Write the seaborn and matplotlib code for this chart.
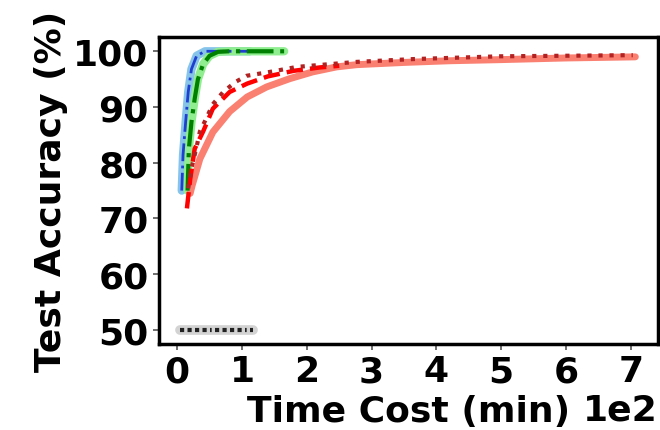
import matplotlib
matplotlib.use("Agg")
import matplotlib.pyplot as plt
import seaborn as sns

# ---- data (time in minutes, accuracy in %) ----
blue_time = [7, 9, 13, 17, 22, 30, 43, 60, 80, 100, 112]
blue_acc = [75.0, 81.4, 87.3, 92.7, 96.8, 99.2, 100.0, 100.0, 100.0, 100.0, 100.0]

green_time = [16, 18, 22, 27, 32, 40, 50, 63, 80, 100, 120, 140, 165]
green_acc = [75.0, 82.5, 87.3, 91.5, 95.0, 97.7, 99.2, 99.9, 100.0, 100.0, 100.0, 100.0, 100.0]

salmon_time = [20, 23, 35, 55, 81, 108, 138, 174, 209, 246, 277, 350, 420, 498, 600, 707]
salmon_acc = [74.5, 75.9, 80.7, 85.5, 89.2, 91.8, 93.6, 95.1, 96.3, 97.2, 97.6, 98.0, 98.3, 98.5, 98.8, 99.0]

red_time = [15, 20, 27, 40, 55, 81, 108, 140, 180, 220, 250]
red_acc = [71.8, 77.0, 82.5, 85.6, 89.7, 92.7, 94.2, 95.5, 96.5, 97.1, 97.4]

dotted_time = [17, 22, 30, 35, 43, 55, 71, 90, 107, 143, 185, 236, 277, 364, 498, 600, 703]
dotted_acc = [75.4, 79.0, 82.9, 85.6, 87.5, 90.5, 92.7, 94.5, 95.6, 96.3, 97.2, 97.7, 98.1, 98.6, 99.1, 99.2, 99.3]

gray_time = [4, 30, 60, 90, 117]
gray_acc = [50.0, 50.0, 50.0, 50.0, 50.0]

x_ticks = [0, 100, 200, 300, 400, 500, 600, 700]
y_ticks = [50, 60, 70, 80, 90, 100]

sns.set_style("ticks")
plt.rcParams["font.family"] = ["DejaVu Sans"]
plt.rcParams["font.weight"] = "bold"
plt.rcParams["text.color"] = "black"
plt.rcParams["axes.labelcolor"] = "black"
plt.rcParams["xtick.color"] = "black"
plt.rcParams["ytick.color"] = "black"

fig = plt.figure(figsize=(6.6, 4.31), dpi=100)
ax = fig.add_axes([0.241, 0.200, 0.756, 0.711])

# light bands
sns.lineplot(x=gray_time, y=gray_acc, ax=ax, color="lightgray", linewidth=7)
sns.lineplot(x=gray_time, y=gray_acc, ax=ax, color="#222222", linewidth=3,
             dashes=(1, 0.8, 1, 0.8, 1, 0.8, 1, 0.8, 0.4, 0.8))
sns.lineplot(x=blue_time, y=blue_acc, ax=ax, color="#87c4ea", linewidth=6)
sns.lineplot(x=green_time, y=green_acc, ax=ax, color="#90ee90", linewidth=6)
sns.lineplot(x=salmon_time, y=salmon_acc, ax=ax, color="#fa8072", linewidth=5)

# darker lines
sns.lineplot(x=blue_time, y=blue_acc, ax=ax, color="#1f3fd0", linewidth=2, linestyle="-.")
sns.lineplot(x=green_time, y=green_acc, ax=ax, color="green", linewidth=3, linestyle="-.")
sns.lineplot(x=red_time, y=red_acc, ax=ax, color="red", linewidth=3.2, linestyle="--")
sns.lineplot(x=dotted_time, y=dotted_acc, ax=ax, color="#b22222", linewidth=3, linestyle=":")

ax.set_xlim(-28, 742)
ax.set_ylim(47.5, 102.5)
ax.set_xticks(x_ticks)
ax.set_yticks(y_ticks)
ax.ticklabel_format(axis="x", style="sci", scilimits=(2, 2))

fs = 26
ax.tick_params(axis="both", labelsize=fs, length=4, width=1.2, color="#555555",
               labelcolor="black")
for lab in ax.get_xticklabels() + ax.get_yticklabels():
    lab.set_fontweight("bold")
ax.xaxis.get_offset_text().set_fontsize(fs)
ax.xaxis.get_offset_text().set_fontweight("bold")
ax.xaxis.get_offset_text().set_color("black")
ax.set_xlabel("Time Cost (min)", fontsize=fs, fontweight="bold", color="black")
ax.set_ylabel("Test Accuracy (%)", fontsize=fs, fontweight="bold", color="black")

for s in ax.spines.values():
    s.set_visible(True)
    s.set_color("black")
    s.set_linewidth(2.5)

fig.savefig("out.png", dpi=100)
